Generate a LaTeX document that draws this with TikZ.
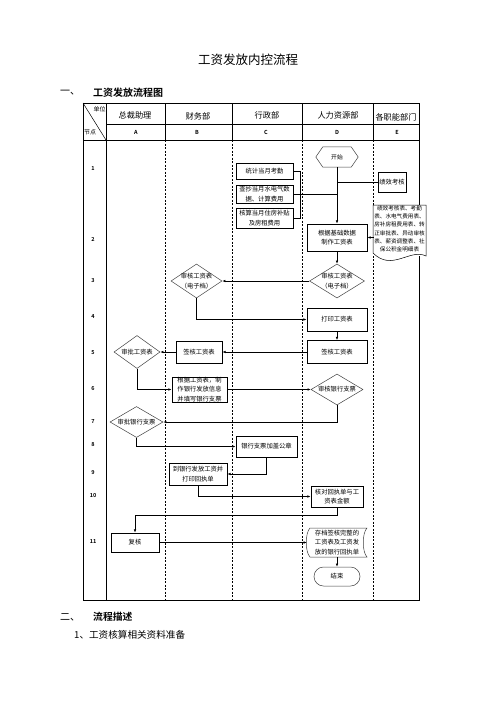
\documentclass[tikz,border=0pt]{standalone}
\usepackage{fontspec}
\setmainfont{Noto Sans CJK SC}[BoldFont={Noto Sans CJK SC Bold}]
\usetikzlibrary{arrows.meta,shapes.geometric}
\newcommand\fsn{\fontsize{6.3}{9.5}\selectfont}
\newcommand\fsd{\fontsize{5.6}{8.3}\selectfont}
\tikzset{
  bx/.style={draw,line width=0.8pt,inner sep=0pt,font=\fsn,align=center,fill=white},
  dm/.style={draw=black!75,line width=0.5pt,diamond,inner sep=0pt},
  tx/.style={font=\fsn,align=center,inner sep=0pt},
  ar/.style={-{Latex[length=3.2pt,width=2.6pt]},line width=0.7pt},
  ln/.style={line width=0.7pt},
  gridd/.style={line width=0.5pt,dash pattern=on 2pt off 1.5pt},
  hd/.style={font=\fontsize{8.2}{9}\selectfont,inner sep=0pt},
  lt/.style={font=\fontsize{5.5}{6}\selectfont\bfseries,inner sep=0pt},
}
\begin{document}
\begin{tikzpicture}[x=1pt,y=-1pt]
\useasboundingbox[fill=white] (0,0) rectangle (496,702);
% titles
\node[inner sep=0pt] (title) at (248,60) {\fontsize{12.5}{14}\selectfont 工资发放内控流程};
\node[anchor=west,inner sep=0pt] (s1n) at (60,93) {\fontsize{10}{11}\selectfont 一、};
\node[anchor=west,inner sep=0pt] (s1t) at (93,93) {\fontsize{10}{11}\selectfont\bfseries 工资发放流程图};
\node[anchor=west,inner sep=0pt] (s2n) at (60,617) {\fontsize{10}{11}\selectfont 二、};
\node[anchor=west,inner sep=0pt] (s2t) at (93,617) {\fontsize{9.8}{11}\selectfont\bfseries 流程描述};
\node[anchor=west,inner sep=0pt] (p1) at (74,635) {\fontsize{9.6}{11}\selectfont 1、工资核算相关资料准备};
% grid
\draw[line width=0.6pt] (106,103) -- (106,600);
\draw[line width=0.6pt] (106,124) -- (419,124);
\draw[line width=0.8pt] (83,140) -- (419,140);
\draw[line width=0.5pt] (83,103) -- (106,140);
\foreach \xx in {165,232,302,373}{
  \draw[line width=0.5pt] (\xx,103) -- (\xx,140);
  \draw[gridd] (\xx,140) -- (\xx,600);
}
\draw[line width=1pt] (83,103) rectangle (419,600);
% header text
\node[font=\fontsize{6}{7}\selectfont,inner sep=0pt] (hdu) at (99.5,109) {单位};
\node[font=\fontsize{6}{7}\selectfont,inner sep=0pt] (hdj) at (90,132.5) {节点};
\node[hd] (hA) at (135,115) {总裁助理};
\node[hd] (hB) at (198,116) {财务部};
\node[hd] (hC) at (267,115) {行政部};
\node[hd] (hD) at (338,115) {人力资源部};
\node[hd] (hE) at (396,117) {各职能部门};
\node[lt] (lA) at (136,132) {A};
\node[lt] (lB) at (197,132) {B};
\node[lt] (lC) at (266,132) {C};
\node[lt] (lD) at (337,132) {D};
\node[lt] (lE) at (397,132) {E};
% row numbers
\foreach \nn/\yy in {1/169,2/239,3/281,4/317,5/353,6/389,7/422,8/445,9/473,10/496,11/542}{
  \node[lt] (r\nn) at (93,\yy) {\nn};
}
% start hexagon
\node[inner sep=0pt,minimum width=42pt,minimum height=20pt,font=\fontsize{5.8}{7}\selectfont] (start) at (337,157) {开始};
\draw[line width=0.5pt,draw=black!75] ([xshift=7pt]start.north west) -- ([xshift=-7pt]start.north east) -- (start.east) -- ([xshift=-7pt]start.south east) -- ([xshift=7pt]start.south west) -- (start.west) -- cycle;
% left C boxes
\node[bx,minimum width=57pt,minimum height=16pt] (tj) at (264.5,171) {统计当月考勤};
\node[bx,minimum width=57pt,minimum height=18pt] (cc) at (264.5,194) {查抄当月水电气数\\据、计算费用};
\node[bx,minimum width=57pt,minimum height=20pt] (hs) at (264.5,218) {核算当月住房补贴\\及房租费用};
\node[bx,minimum width=28pt,minimum height=20pt] (jx) at (392,182) {绩效考核};
\node[bx,minimum width=60pt,minimum height=27pt] (zz) at (337,237.5) {根据基础数据\\制作工资表};
% document
\node[inner sep=0pt,minimum width=51pt,minimum height=50pt] (doc) at (399.5,230) {};
\fill[white] (372,205) rectangle (426,256);
\draw[line width=0.5pt,fill=white] (373,205) -- (426,205) -- (426,256) .. controls (410,248) and (392,272) .. (373,253) -- cycle;
\node[font=\fsd,align=center,inner sep=0pt] (doct) at (399.5,229) {绩效考核表、考勤\\表、水电气费用表、\\房补房租费用表、转\\正审批表、异动审核\\表、薪资调整表、社\\保公积金明细表};
% row 3
\node[dm,minimum width=55pt,minimum height=34pt] (d1) at (337,281) {};
\node[tx] (d1t) at (d1) {审核工资表\\（电子档）};
\node[dm,minimum width=51pt,minimum height=34pt] (d2) at (196.5,281) {};
\node[tx] (d2t) at (d2) {审核工资表\\（电子档）};
% rows 4-5
\node[bx,minimum width=60pt,minimum height=23pt] (dy) at (337,319.5) {打印工资表};
\node[bx,minimum width=60pt,minimum height=23pt] (qd) at (337,352) {签核工资表};
\node[bx,minimum width=46pt,minimum height=22pt] (qb) at (199,352) {签核工资表};
\node[dm,minimum width=46pt,minimum height=33pt] (sa) at (137,352) {};
\node[tx] (sat) at (sa) {审批工资表};
% row 6-7
\node[bx,minimum width=55pt,minimum height=25pt] (zb) at (199.5,389.5) {根据工资表，制\\作银行发放信息\\并填写银行支票};
\node[dm,minimum width=52pt,minimum height=31pt] (d3) at (337,389.5) {};
\node[tx] (d3t) at (d3) {审核银行支票};
\node[dm,minimum width=53pt,minimum height=31pt] (d4) at (136.5,422) {};
\node[tx] (d4t) at (d4) {审批银行支票};
% rows 8-11
\node[bx,minimum width=61pt,minimum height=21pt] (gz) at (266.5,446.5) {银行支票加盖公章};
\node[bx,minimum width=58pt,minimum height=22pt] (dyh) at (198,474) {到银行发放工资并\\打印回执单};
\node[bx,minimum width=52pt,minimum height=21pt] (hdd) at (337,496.5) {核对回执单与工\\资表金额};
\node[bx,minimum width=48pt,minimum height=19pt] (fh) at (135,542.5) {复核};
\node[inner sep=0pt,minimum width=60pt,minimum height=29pt] (cd) at (337,542.5) {};
\draw[line width=0.5pt,draw=black!75] (310,528) -- (367,528) .. controls (362,533) and (362,552) .. (367,557) -- (310,557) .. controls (305,552) and (305,533) .. (310,528) -- cycle;
\node[tx] (cdt) at (337,542.5) {存档签核完整的\\工资表及工资发\\放的银行回执单};
\node[draw=black!75,line width=0.5pt,rounded corners=9.5pt,minimum width=46pt,minimum height=19pt,inner sep=0pt,font=\fsn] (js) at (337,576.5) {结束};
% connectors
\coordinate (br) at (300,194);
\draw[ln] (tj.east) -- (tj.east -| br) -- (hs.east -| br) -- (hs.east);
\draw[ln] (cc.east) -- (cc.east -| start);
\draw[ln] (jx.west) -- (jx.west -| start);
\draw[ar] (start.south) -- (zz.north);
\draw[ar] (doc.west |- zz.east) -- (zz.east);
\draw[ar] (zz) -- (d1);
\draw[ar] (d1) -- (d2);
\draw[ar] (d2.south) |- (dy.west);
\draw[ar] (dy) -- (qd);
\draw[ar] (qd) -- (qb);
\draw[ar] (qb) -- (sa);
\draw[ar] (sa.south) |- (zb.west);
\draw[ar] (zb) -- (d3);
\draw[ar] (d3.south) |- (d4.east);
\draw[ar] (d4.south) |- (gz.west);
\draw[ar] (gz.south) |- (dyh.east);
\draw[ar] (dyh.south) |- (hdd.west);
\draw[ar] (hdd.south) -- ++(0,7.5) -| (fh.north);
\draw[ar] (fh.east) -- (cd.west);
\draw[ar] (cd) -- (js);
\end{tikzpicture}
\end{document}
